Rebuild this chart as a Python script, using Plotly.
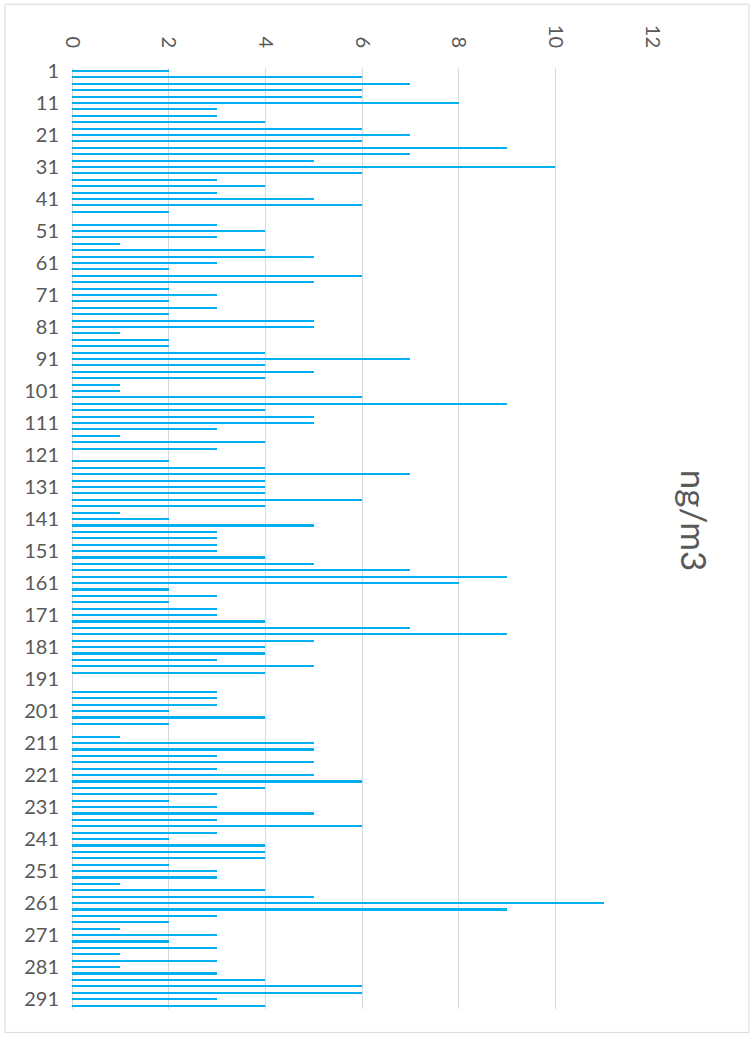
import plotly.graph_objects as go

# Category labels (odd sample numbers) and measured values (ng/m3)
categories = list(range(1, 294, 2))
values = [
    2, 6, 7, 6, 6, 8, 3, 3, 4, 6, 7, 6,
    9, 7, 5, 10, 6, 3, 4, 3, 5, 6, 2,
    0,
    3, 4, 3, 1, 4, 5, 3, 2, 6, 5, 2, 3,
    2, 3, 2, 5, 5, 1, 2, 2, 4, 7, 4, 5,
    4, 1, 1, 6, 9, 4, 5, 5, 3, 1, 4, 3,
    0,
    2, 4, 7, 4, 4, 4, 6, 4, 1, 2, 5, 3,
    3, 3, 3, 4, 5, 7, 9, 8, 2, 3, 2, 3,
    3, 4, 7, 9, 5, 4, 4, 3, 5, 4,
    0, 0,
    3, 3, 3, 2, 4, 2,
    0,
    1, 5, 5, 3, 5,
    3, 5, 6, 4, 3, 2, 3, 5, 3, 6, 3, 2,
    4, 4, 4, 2, 3, 3, 1, 4, 5, 11, 9, 3,
    2, 1, 3, 2, 3, 1, 3, 1, 3, 4, 6, 6, 3, 4,
]
y_ticks = list(range(1, 292, 10))
x_ticks = [0, 2, 4, 6, 8, 10, 12]
axis_title = "ng/m3"

FONT = "Lato, Carlito, Calibri, sans-serif"
GRAY = "#595959"

fig = go.Figure(
    go.Bar(
        x=values,
        y=categories,
        orientation="h",
        width=0.5,
        marker=dict(color="#00B0F0", line=dict(width=0)),
    )
)

fig.update_layout(
    width=754,
    height=1037,
    margin=dict(l=72, r=102, t=68, b=28),
    paper_bgcolor="white",
    plot_bgcolor="white",
    showlegend=False,
    font=dict(family=FONT, color=GRAY, size=20),
    bargap=0,
)

fig.update_xaxes(
    side="top",
    range=[0, 12],
    tickvals=x_ticks,
    tickangle=90,
    showgrid=True,
    gridcolor="#D9D9D9",
    gridwidth=1,
    zeroline=True,
    zerolinecolor="#D9D9D9",
    zerolinewidth=1,
    showline=False,
    ticks="",
    ticklabelstandoff=16,
    tickfont=dict(family=FONT, size=20, color=GRAY),
)

fig.update_yaxes(
    range=[294, 0],
    tickvals=y_ticks,
    ticktext=[str(t) for t in y_ticks],
    showgrid=False,
    zeroline=False,
    showline=False,
    ticks="",
    ticklabelstandoff=12,
    tickfont=dict(family=FONT, size=20, color=GRAY),
)

fig.add_annotation(
    text=axis_title,
    xref="paper", yref="paper",
    x=1.074, y=0.519,
    xanchor="center", yanchor="middle",
    showarrow=False,
    textangle=90,
    font=dict(family=FONT, size=35, color=GRAY),
)

fig.add_shape(
    type="rect",
    xref="paper", yref="paper",
    x0=-0.1155, x1=1.167, y0=-0.0249, y1=1.0678,
    line=dict(color="#D9D9D9", width=1),
    fillcolor="rgba(0,0,0,0)",
    layer="below",
)

fig.write_html(
    "out.html",
    config={"displayModeBar": False},
    post_script="document.body.style.margin='0';",
)
